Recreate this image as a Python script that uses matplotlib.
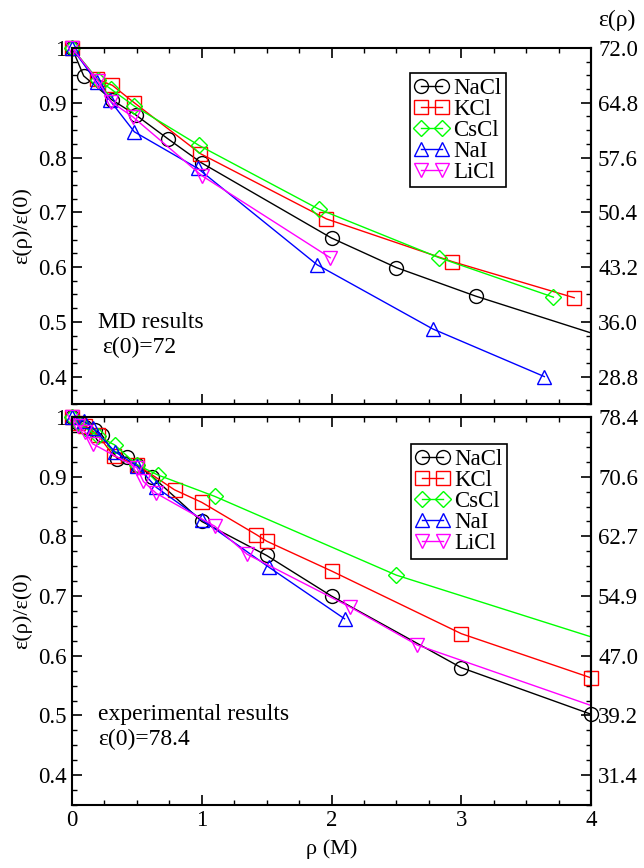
import matplotlib
matplotlib.use("Agg")
import matplotlib.pyplot as plt
import numpy as np
from matplotlib.lines import Line2D
from matplotlib.ticker import MultipleLocator, FixedLocator, FuncFormatter

plt.rcParams["font.family"] = ["Liberation Serif", "DejaVu Serif"]

salts = ["NaCl", "KCl", "CsCl", "NaI", "LiCl"]
colors = ["black", "#ff0000", "#00ff00", "#0000ff", "#ff00ff"]
markers = ["o", "s", "D", "^", "v"]

# MD results, eps(0) = 72
nacl_md_x = [0, 0.09, 0.31, 0.49, 0.74, 1.0, 2.0, 2.5, 3.11, 4.3]
nacl_md_y = [1.0, 0.949, 0.905, 0.878, 0.834, 0.79, 0.653, 0.599, 0.547, 0.457]
kcl_md_x = [0, 0.19, 0.31, 0.48, 0.99, 1.96, 2.93, 3.87]
kcl_md_y = [1.0, 0.943, 0.932, 0.9, 0.807, 0.688, 0.61, 0.544]
cscl_md_x = [0, 0.2, 0.3, 0.48, 0.98, 1.9, 2.83, 3.71]
cscl_md_y = [1.0, 0.942, 0.925, 0.894, 0.822, 0.706, 0.617, 0.545]
nai_md_x = [0, 0.19, 0.29, 0.48, 0.97, 1.89, 2.78, 3.64]
nai_md_y = [1.0, 0.938, 0.905, 0.847, 0.78, 0.604, 0.487, 0.4]
licl_md_x = [0, 0.2, 0.3, 0.47, 1.0, 1.99]
licl_md_y = [1.0, 0.94, 0.902, 0.874, 0.767, 0.617]

# experimental results, eps(0) = 78.4
nacl_exp_x = [0, 0.05, 0.1, 0.18, 0.23, 0.35, 0.42, 0.5, 0.62, 1.0, 1.5, 2.0, 3.0, 4.0]
nacl_exp_y = [1.0, 0.99, 0.984, 0.978, 0.97, 0.93, 0.933, 0.92, 0.9, 0.825, 0.768, 0.70, 0.58, 0.502]
kcl_exp_x = [0, 0.05, 0.1, 0.2, 0.32, 0.5, 0.79, 1.0, 1.42, 1.5, 2.0, 3.0, 4.0]
kcl_exp_y = [1.0, 0.99, 0.985, 0.97, 0.935, 0.92, 0.878, 0.857, 0.803, 0.792, 0.742, 0.637, 0.563]
cscl_exp_x = [0, 0.05, 0.1, 0.2, 0.33, 0.5, 0.66, 1.1, 2.5, 4.3]
cscl_exp_y = [1.0, 0.99, 0.982, 0.968, 0.953, 0.92, 0.903, 0.867, 0.735, 0.611]
nai_exp_x = [0, 0.09, 0.16, 0.33, 0.5, 0.65, 1.0, 1.52, 2.1]
nai_exp_y = [1.0, 0.993, 0.982, 0.942, 0.918, 0.882, 0.828, 0.748, 0.662]
licl_exp_x = [0, 0.05, 0.1, 0.16, 0.5, 0.55, 0.65, 1.1, 1.35, 2.14, 2.66, 4.3]
licl_exp_y = [1.0, 0.985, 0.975, 0.955, 0.915, 0.892, 0.872, 0.817, 0.77, 0.682, 0.618, 0.494]

md_data = [(nacl_md_x, nacl_md_y), (kcl_md_x, kcl_md_y), (cscl_md_x, cscl_md_y),
           (nai_md_x, nai_md_y), (licl_md_x, licl_md_y)]
exp_data = [(nacl_exp_x, nacl_exp_y), (kcl_exp_x, kcl_exp_y), (cscl_exp_x, cscl_exp_y),
            (nai_exp_x, nai_exp_y), (licl_exp_x, licl_exp_y)]

XMAX = 4.0
MS = {"o": 10, "s": 10, "D": 8, "^": 10.5, "v": 10.5}
FS = 16.5


def draw_series(ax, x, y, color, marker):
    x = np.asarray(x)
    y = np.asarray(y)
    # line is clipped at the frame, symbols are not
    ax.plot(x, y, color=color, lw=1.0)
    keep = x <= XMAX
    ax.plot(x[keep], y[keep], ls="none", marker=marker, ms=MS[marker],
            mfc="none", mec=color, mew=1.0, clip_on=False)


def style_axes(ax, eps0, right_ticks):
    ax.set_xlim(0, XMAX)
    ax.set_ylim(0.35, 1.0)
    ax.xaxis.set_major_locator(MultipleLocator(1))
    ax.xaxis.set_minor_locator(MultipleLocator(0.25))
    ax.yaxis.set_major_locator(FixedLocator([0.4, 0.5, 0.6, 0.7, 0.8, 0.9, 1.0]))
    ax.yaxis.set_minor_locator(MultipleLocator(0.025))
    ax.yaxis.set_major_formatter(FuncFormatter(lambda v, p: "1" if abs(v - 1) < 1e-9 else "%.1f" % v))
    ax.tick_params(which="both", direction="in", top=True, right=False, labelsize=FS)
    ax.tick_params(which="major", length=7, width=1.2)
    ax.tick_params(which="minor", length=3.6, width=1.0)
    ax.tick_params(axis="y", pad=4)
    for s in ax.spines.values():
        s.set_linewidth(1.5)
    ax.set_ylabel("ε(ρ)/ε(0)", fontsize=16, labelpad=4)

    sec = ax.secondary_yaxis("right", functions=(lambda v: v * eps0, lambda v: v / eps0))
    sec.yaxis.set_major_locator(FixedLocator(right_ticks))
    sec.yaxis.set_minor_locator(MultipleLocator(0.025 * eps0))
    sec.yaxis.set_major_formatter(FuncFormatter(lambda v, p: "%.1f" % v))
    sec.tick_params(which="both", direction="in", labelsize=FS)
    sec.tick_params(which="major", length=7, width=1.2, pad=5)
    sec.tick_params(which="minor", length=3.6, width=1.0)
    sec.spines["right"].set_linewidth(1.5)


def add_legend(ax, anchor):
    handles = [Line2D([0], [0], color=c, lw=1.0, marker=m, ms=MS[m], mfc="none",
                      mec=c, mew=1.0) for c, m in zip(colors, markers)]
    leg = ax.legend(handles, salts, loc="upper left", bbox_to_anchor=anchor,
                    numpoints=2, fontsize=FS, handlelength=1.5, handletextpad=0.2,
                    labelspacing=0.0, borderpad=0.2, borderaxespad=0,
                    fancybox=False, framealpha=1, edgecolor="black")
    leg.get_frame().set_linewidth(1.2)


fig = plt.figure(figsize=(6.44, 8.68), dpi=100)
ax_md = fig.add_axes([0.1118, 0.5346, 0.806, 0.4101])
ax_exp = fig.add_axes([0.1118, 0.0726, 0.806, 0.4470])

for (x, y), c, m in zip(md_data, colors, markers):
    draw_series(ax_md, x, y, c, m)
for (x, y), c, m in zip(exp_data, colors, markers):
    draw_series(ax_exp, x, y, c, m)

style_axes(ax_md, 72.0, [28.8, 36.0, 43.2, 50.4, 57.6, 64.8, 72.0])
style_axes(ax_exp, 78.4, [31.36, 39.2, 47.04, 54.88, 62.72, 70.56, 78.4])
ax_md.tick_params(axis="x", labelbottom=False)
ax_exp.set_xlabel("ρ (M)", fontsize=16, labelpad=6)

add_legend(ax_md, (0.651, 0.93))
add_legend(ax_exp, (0.653, 0.93))

ax_md.text(0.05, 0.23, "MD results", transform=ax_md.transAxes, fontsize=17, va="center")
ax_md.text(0.058, 0.16, "ε(0)=72", transform=ax_md.transAxes, fontsize=17, va="center")
ax_exp.text(0.05, 0.232, "experimental results", transform=ax_exp.transAxes, fontsize=17, va="center")
ax_exp.text(0.05, 0.168, "ε(0)=78.4", transform=ax_exp.transAxes, fontsize=17, va="center")

fig.text(617 / 644, 1 - 20 / 868, "ε(ρ)", ha="center", va="center", fontsize=17)

fig.savefig("out.png", dpi=100)
